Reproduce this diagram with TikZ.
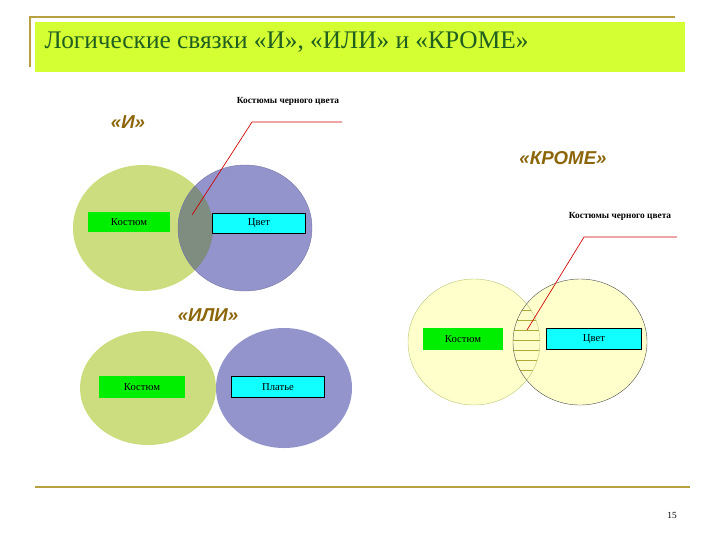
\documentclass[tikz,border=0pt]{standalone}
\usepackage{fontspec}
\setmainfont{Liberation Serif}
\newfontfamily\sansb{Liberation Sans}
\definecolor{gold}{HTML}{B8A040}
\definecolor{titlebg}{HTML}{D4FF33}
\definecolor{titlefg}{HTML}{1F5F1F}
\definecolor{brownt}{HTML}{8B6508}
\definecolor{eg}{HTML}{CCDD80}
\definecolor{eb}{HTML}{9494CC}
\definecolor{ey}{HTML}{FFFFCC}
\definecolor{ei}{HTML}{7F8C80}
\definecolor{bgreen}{HTML}{00EE00}
\definecolor{bcyan}{HTML}{11FFFF}
\tikzset{
 lbl/.style={font=\sansb\bfseries\itshape\fontsize{14}{14}\selectfont,text=brownt},
 gbox/.style={fill=bgreen,minimum height=15pt,inner sep=0pt,font=\fontsize{8}{8}\selectfont},
 cbox/.style={fill=bcyan,draw=black,line width=0.4pt,minimum height=15pt,inner sep=0pt,font=\fontsize{8}{8}\selectfont},
 note/.style={font=\bfseries\fontsize{7}{7}\selectfont},
 lead/.style={red!80!black,line width=0.5pt}
}
\begin{document}
\begin{tikzpicture}[x=0.75pt,y=-0.75pt]
\useasboundingbox (0,0) rectangle (720,540);
% title
\fill[titlebg] (35,22) rectangle (685,72);
\draw[gold,line width=1.2pt] (30,67) -- (30,17) -- (675,17);
\node[anchor=west,text=titlefg,font=\fontsize{19}{19}\selectfont] (title) at (40,42) {Логические связки «И», «ИЛИ» и «КРОМЕ»};
\draw[gold,line width=1pt] (35,487) -- (690,487);
\node[font=\fontsize{7}{7}\selectfont] (pg) at (672,515) {15};
% И
\node[lbl] (li) at (128,122) {«И»};
\begin{scope}
\fill[eg] (143,228) ellipse [x radius=70,y radius=63];
\fill[eb] (245,228) ellipse [x radius=67,y radius=63];
\clip (143,228) ellipse [x radius=70,y radius=63];
\fill[ei] (245,228) ellipse [x radius=67,y radius=63];
\end{scope}
\draw[eb!80!black,line width=0.3pt] (245,228) ellipse [x radius=67,y radius=63];
\node[gbox,minimum width=62pt] (k1) at (129,222) {Костюм};
\node[cbox,minimum width=70pt] (c1) at (259,223) {Цвет};
\node[note] (n1) at (288,101) {Костюмы черного цвета};
\coordinate (a1) at (342,122); \coordinate (b1) at (252,122); \coordinate (p1) at (192,215);
\draw[lead] (a1) -- (b1) -- (p1);
% ИЛИ
\node[lbl] (lili) at (208,315) {«ИЛИ»};
\fill[eg] (148,388) ellipse [x radius=68,y radius=57];
\fill[eb] (284,388) ellipse [x radius=68,y radius=60];
\node[gbox,minimum width=64pt,minimum height=16pt] (k2) at (142,387) {Костюм};
\node[cbox,minimum width=70pt,minimum height=16pt] (c2) at (278,387) {Платье};
% КРОМЕ
\node[lbl] (lk) at (563,158) {«КРОМЕ»};
\fill[ey] (474,342) ellipse [x radius=66,y radius=63];
\fill[ey] (580,342) ellipse [x radius=67,y radius=63];
\begin{scope}
\clip (474,342) ellipse [x radius=66,y radius=63];
\clip (580,342) ellipse [x radius=67,y radius=63];
\foreach \yy in {300,310,...,390} \draw[olive!70,line width=0.6pt] (505,\yy) -- (545,\yy);
\end{scope}
\draw[eg!90!black,line width=0.3pt] (474,342) ellipse [x radius=66,y radius=63];
\draw[black!70,line width=0.3pt] (580,342) ellipse [x radius=67,y radius=63];
\node[gbox,minimum width=60pt,minimum height=16pt] (k3) at (463,339) {Костюм};
\node[cbox,minimum width=71pt,minimum height=16pt] (c3) at (594,339) {Цвет};
\node[note] (n2) at (620,216) {Костюмы черного цвета};
\coordinate (a2) at (677,237); \coordinate (b2) at (584,237); \coordinate (p2) at (527,330);
\draw[lead] (a2) -- (b2) -- (p2);
\end{tikzpicture}
\end{document}
